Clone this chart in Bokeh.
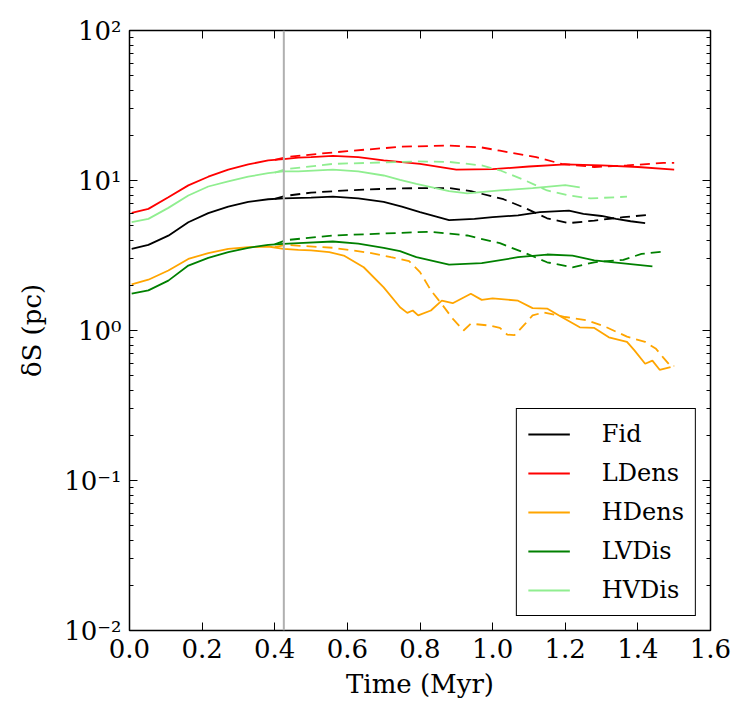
from bokeh.plotting import figure
from bokeh.models import (Range1d, FixedTicker, LogTicker, PrintfTickFormatter, CustomJSTickFormatter,
                          LinearAxis, LogAxis, Span, Legend, LegendItem)
from bokeh.embed import file_html
from bokeh.resources import INLINE

# ---------------- data ----------------
names = ["Fid", "LDens", "HDens", "LVDis", "HVDis"]
colors = ["#000000", "#ff0000", "#ffa500", "#008000", "#90ee90"]

fid_t = [0.006, 0.052, 0.107, 0.162, 0.217, 0.272, 0.327, 0.382, 0.424, 0.5, 0.56, 0.63, 0.7, 0.75, 0.8, 0.88,
         0.95, 1.0, 1.07, 1.13, 1.21, 1.25, 1.3, 1.34, 1.38, 1.42]
fid_v = [3.5, 3.72, 4.29, 5.27, 6.06, 6.7, 7.2, 7.5, 7.6, 7.7, 7.8, 7.6, 7.2, 6.7, 6.15, 5.45,
         5.55, 5.7, 5.85, 6.15, 6.3, 6.0, 5.8, 5.55, 5.35, 5.2]
fid_dt = [0.40, 0.43, 0.5, 0.6, 0.7, 0.8, 0.88, 0.94, 1.03, 1.09, 1.15, 1.21, 1.28, 1.36, 1.43]
fid_dv = [7.55, 7.9, 8.3, 8.6, 8.8, 8.9, 8.9, 8.5, 7.5, 6.55, 5.6, 5.2, 5.4, 5.7, 5.9]

ld_t = [0.006, 0.052, 0.107, 0.162, 0.217, 0.272, 0.327, 0.382, 0.424, 0.465, 0.5, 0.56, 0.63, 0.7, 0.8, 0.9,
        1.0, 1.1, 1.2, 1.3, 1.4, 1.5]
ld_v = [6.09, 6.47, 7.74, 9.28, 10.6, 11.8, 12.8, 13.6, 13.9, 14.2, 14.3, 14.6, 14.3, 13.6, 12.9, 11.8,
        11.9, 12.4, 12.8, 12.6, 12.3, 11.8]
ld_dt = [0.40, 0.43, 0.5, 0.6, 0.75, 0.88, 0.97, 1.02, 1.12, 1.19, 1.28, 1.37, 1.47, 1.5]
ld_dv = [13.7, 14.3, 14.9, 15.7, 16.8, 17.1, 16.6, 15.8, 14.3, 12.9, 12.3, 12.6, 13.1, 13.1]

hd_t = [0.006, 0.052, 0.107, 0.162, 0.217, 0.272, 0.327, 0.382, 0.424, 0.465, 0.5, 0.55, 0.59, 0.645, 0.7, 0.745,
        0.765, 0.78, 0.795, 0.83, 0.86, 0.89, 0.94, 0.97, 1.0, 1.07, 1.11, 1.15, 1.19, 1.24, 1.28, 1.32, 1.37,
        1.39, 1.42, 1.44, 1.46, 1.49]
hd_v = [2.03, 2.18, 2.51, 3.0, 3.28, 3.5, 3.59, 3.63, 3.5, 3.45, 3.42, 3.33, 3.16, 2.64, 1.94, 1.43,
        1.31, 1.36, 1.26, 1.36, 1.58, 1.52, 1.76, 1.6, 1.64, 1.58, 1.41, 1.4, 1.23, 1.05, 1.04, 0.9, 0.84,
        0.74, 0.6, 0.63, 0.547, 0.57]
hd_dt = [0.40, 0.43, 0.56, 0.66, 0.72, 0.745, 0.77, 0.8, 0.83, 0.86, 0.89, 0.92, 0.94, 0.99, 1.02, 1.04, 1.06,
         1.09, 1.11, 1.14, 1.2, 1.26, 1.31, 1.37, 1.42, 1.45, 1.47, 1.49, 1.5]
hd_dv = [3.6, 3.72, 3.56, 3.3, 3.08, 3.0, 2.9, 2.45, 1.85, 1.5, 1.2, 1.0, 1.11, 1.08, 1.04, 0.94, 0.93,
         1.11, 1.26, 1.32, 1.23, 1.17, 1.06, 0.91, 0.84, 0.755, 0.66, 0.58, 0.58]

lv_t = [0.006, 0.052, 0.107, 0.162, 0.217, 0.272, 0.327, 0.382, 0.424, 0.465, 0.56, 0.63, 0.7, 0.745, 0.79, 0.88,
        0.97, 1.07, 1.15, 1.22, 1.28, 1.44]
lv_v = [1.76, 1.85, 2.15, 2.71, 3.05, 3.33, 3.56, 3.72, 3.78, 3.82, 3.92, 3.8, 3.56, 3.38, 3.08, 2.75,
        2.81, 3.08, 3.21, 3.16, 2.93, 2.68]
lv_dt = [0.40, 0.43, 0.56, 0.79, 0.83, 0.93, 1.02, 1.09, 1.15, 1.22, 1.28, 1.36, 1.41, 1.47]
lv_dv = [3.75, 4.0, 4.3, 4.52, 4.55, 4.3, 3.82, 3.28, 2.85, 2.64, 2.85, 2.96, 3.24, 3.36]

hv_t = [0.006, 0.052, 0.107, 0.162, 0.217, 0.272, 0.327, 0.382, 0.424, 0.465, 0.56, 0.63, 0.7, 0.745, 0.79, 0.88,
        0.93, 1.02, 1.11, 1.2, 1.24]
hv_v = [5.27, 5.55, 6.57, 7.94, 9.12, 9.87, 10.6, 11.2, 11.5, 11.5, 11.8, 11.5, 10.8, 10.1, 9.5, 8.5,
        8.2, 8.58, 8.9, 9.3, 9.0]
hv_dt = [0.40, 0.43, 0.56, 0.79, 0.88, 0.97, 1.02, 1.09, 1.15, 1.21, 1.27, 1.37]
hv_dv = [11.3, 11.9, 12.9, 13.4, 13.3, 12.6, 11.7, 10.0, 8.58, 7.94, 7.6, 7.8]

marker_time = 0.425
x_ticks = [0.0, 0.2, 0.4, 0.6, 0.8, 1.0, 1.2, 1.4, 1.6]
x_title = "Time (Myr)"
y_title = "\u03b4S (pc)"

solid = [(fid_t, fid_v), (ld_t, ld_v), (hd_t, hd_v), (lv_t, lv_v), (hv_t, hv_v)]
dashed = [(fid_dt, fid_dv), (ld_dt, ld_dv), (hd_dt, hd_dv), (lv_dt, lv_dv), (hv_dt, hv_dv)]

FONT = "DejaVu Serif"
FS = "26px"

p = figure(width=748, height=728, output_backend="svg", toolbar_location=None,
           x_range=Range1d(0, 1.6), y_range=Range1d(0.01, 100), y_axis_type="log",
           min_border_left=129, min_border_right=38, min_border_top=30, min_border_bottom=98)
p.background_fill_color = "white"
p.border_fill_color = "white"
p.grid.visible = False
p.outline_line_color = "black"
p.outline_line_width = 1.5

items = []
for (t, v), (dt, dv), c, n in zip(solid, dashed, colors, names):
    p.line(dt, dv, line_color=c, line_width=1.8, line_dash="10 6")
    r = p.line(t, v, line_color=c, line_width=1.8)
    items.append(LegendItem(label=n, renderers=[r]))

p.add_layout(Span(location=marker_time, dimension="height", line_color="#b0b0b0", line_width=2))

xt = FixedTicker(ticks=x_ticks, minor_ticks=[])
yt = LogTicker(num_minor_ticks=10)
yfmt = CustomJSTickFormatter(code="""
const e = Math.round(Math.log10(tick));
const sup = {'-':'\u207b','0':'\u2070','1':'\u00b9','2':'\u00b2','3':'\u00b3'};
return '10' + String(e).split('').map(c => sup[c]).join('');
""")
blank = CustomJSTickFormatter(code="return ' ';")

xa = p.xaxis[0]
xa.ticker = xt
xa.formatter = PrintfTickFormatter(format="%.1f")
xa.axis_label = x_title
ya = p.yaxis[0]
ya.ticker = yt
ya.formatter = yfmt
ya.axis_label = y_title

for ax in (xa, ya):
    ax.axis_line_color = None
    ax.major_tick_in = 8
    ax.major_tick_out = 0
    ax.minor_tick_in = 4
    ax.minor_tick_out = 0
    ax.major_tick_line_color = "black"
    ax.minor_tick_line_color = "black"
    ax.major_label_text_font = FONT
    ax.major_label_text_font_size = FS
    ax.major_label_text_color = "black"
    ax.axis_label_text_font = FONT
    ax.axis_label_text_font_size = FS
    ax.axis_label_text_font_style = "normal"
    ax.axis_label_text_color = "black"
    ax.major_label_standoff = 8
    ax.axis_label_standoff = 8
ya.axis_label_standoff = 14

top = LinearAxis(ticker=xt, formatter=blank, axis_line_color=None, major_tick_in=8, major_tick_out=0,
                 minor_tick_line_color=None, major_label_text_font_size="8px", major_label_standoff=0)
right = LogAxis(ticker=yt, formatter=blank, axis_line_color=None, major_tick_in=8, major_tick_out=0,
                minor_tick_in=4, minor_tick_out=0, major_label_text_font_size="8px", major_label_standoff=0)
p.add_layout(top, "above")
p.add_layout(right, "right")

legend = Legend(items=items, location="bottom_right")
legend.margin = 14
legend.padding = 11
legend.spacing = 11
legend.glyph_width = 42
legend.glyph_height = 22
legend.label_height = 22
legend.label_standoff = 32
legend.label_text_font = FONT
legend.label_text_font_size = "24px"
legend.label_text_color = "black"
legend.border_line_color = "black"
legend.border_line_alpha = 1.0
legend.border_line_width = 1.5
legend.background_fill_color = "white"
legend.background_fill_alpha = 1.0
p.add_layout(legend, "center")

open("out.html", "w").write(file_html(p, INLINE))
